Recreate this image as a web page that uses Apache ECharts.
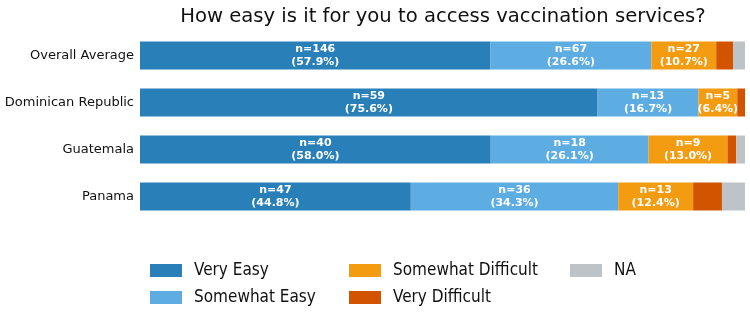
<!DOCTYPE html>
<html>
<head>
<meta charset="utf-8">
<script src="https://cdn.jsdelivr.net/npm/echarts@6/dist/echarts.min.js"></script>
<style>
  html, body { margin: 0; padding: 0; background: #fff; }
  #main { width: 750px; height: 320px; }
</style>
</head>
<body>
<div id="main"></div>
<script>
// 数据
var countries = ["Overall Average", "Dominican Republic", "Guatemala", "Panama"];
var levels = ["Very Easy", "Somewhat Easy", "Somewhat Difficult", "Very Difficult", "NA"];
var veryEasy = [146, 59, 40, 47];
var somewhatEasy = [67, 13, 18, 36];
var somewhatDifficult = [27, 5, 9, 13];
var veryDifficult = [7, 1, 1, 5];
var notAnswered = [5, 0, 1, 4];
var colors = ["#2980b9", "#5dade2", "#f39c12", "#d35400", "#bdc3c7"];

(function () {
  var counts = [veryEasy, somewhatEasy, somewhatDifficult, veryDifficult, notAnswered];
  var totals = countries.map(function (c, i) {
    var s = 0;
    counts.forEach(function (arr) { s += arr[i]; });
    return s;
  });

  var series = counts.map(function (arr, k) {
    return {
      name: levels[k],
      type: "bar",
      stack: "total",
      barWidth: 28,
      itemStyle: { color: colors[k] },
      label: {
        show: true,
        position: "inside",
        color: "#fff",
        fontWeight: "bold",
        fontSize: 11,
        lineHeight: 13,
        fontFamily: "DejaVu Sans",
        formatter: function (p) {
          // 小块不显示标签
          if (p.value < 5) return "";
          return "n=" + arr[p.dataIndex] + "\n(" + p.value.toFixed(1) + "%)";
        }
      },
      data: arr.map(function (v, i) { return v / totals[i] * 100; })
    };
  });

  var legendText = {
    fontSize: 17,
    color: "#111",
    fontFamily: "DejaVu Sans Condensed",
    padding: [0, 0, 0, 7]
  };
  function legend(x, names) {
    return {
      orient: "vertical",
      left: x,
      top: 257,
      itemWidth: 32,
      itemHeight: 13,
      itemGap: 10,
      icon: "rect",
      data: names,
      textStyle: legendText
    };
  }

  var option = {
    animation: false,
    title: {
      text: "How easy is it for you to access vaccination services?",
      left: 438,
      textAlign: "center",
      top: 2,
      textStyle: { fontSize: 19.6, fontWeight: "normal", color: "#111", fontFamily: "DejaVu Sans" }
    },
    legend: [
      legend(145, ["Very Easy", "Somewhat Easy"]),
      legend(344, ["Somewhat Difficult", "Very Difficult"]),
      legend(565, ["NA"])
    ],
    grid: { left: 140, right: 5, top: 32, height: 188 },
    xAxis: { type: "value", min: 0, max: 100, show: false },
    yAxis: {
      type: "category",
      inverse: true,
      data: countries,
      axisLine: { show: false },
      axisTick: { show: false },
      axisLabel: { color: "#111", fontSize: 13, margin: 6, fontFamily: "DejaVu Sans" }
    },
    series: series
  };

  var mychart = echarts.init(document.getElementById("main"));
  mychart.setOption(option);
})();
</script>
</body>
</html>
